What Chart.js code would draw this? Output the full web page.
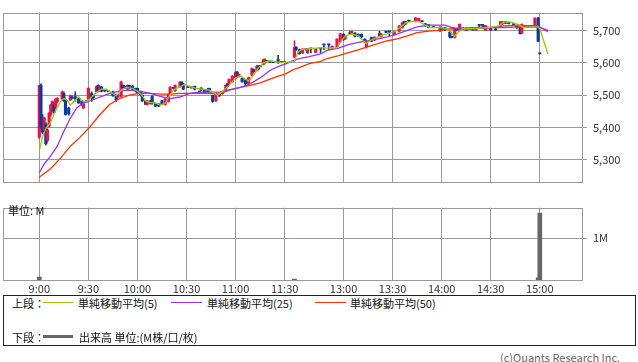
<!DOCTYPE html>
<html><head><meta charset="utf-8">
<script src="https://cdn.jsdelivr.net/npm/chart.js@4.4.1/dist/chart.umd.min.js"></script>
<style>
body{margin:0;background:#fff;font-family:"Noto Sans CJK JP","Noto Sans",sans-serif;}
#wrap{position:relative;width:638px;height:362px;overflow:hidden;background:#fff;}
canvas{position:absolute;left:0;}
.t{position:absolute;font-size:11px;line-height:12px;color:#111;white-space:nowrap;}
.ln{position:absolute;height:1px;}
</style></head><body>
<div id="wrap">
<canvas id="price" width="638" height="195" style="top:0"></canvas>
<canvas id="vol" width="638" height="100" style="top:195px"></canvas>
<div class="t" style="left:8px;top:204px">単位: M</div>
<div id="legend" style="position:absolute;left:3px;top:295px;width:633px;height:51px;border:1px solid #222;box-sizing:border-box;">
  <div class="t" style="left:8px;top:1px">上段：</div>
  <div class="ln" style="left:39px;top:6px;width:30px;background:#99cc00"></div>
  <div class="t" style="left:74px;top:1px">単純移動平均(5)</div>
  <div class="ln" style="left:167px;top:6px;width:31px;background:#9933ff"></div>
  <div class="t" style="left:203px;top:1px">単純移動平均(25)</div>
  <div class="ln" style="left:311px;top:6px;width:31px;background:#ff3300"></div>
  <div class="t" style="left:346px;top:1px">単純移動平均(50)</div>
  <div class="t" style="left:8px;top:35px">下段：</div>
  <div class="ln" style="left:39px;top:39px;width:30px;height:3px;background:#666"></div>
  <div class="t" style="left:75px;top:35px">出来高 単位:(M株/口/枚)</div>
</div>
<div class="t" style="left:500px;top:351px;color:#666">(c)Quants Research Inc.</div>
</div>
<script>
// ---------- data ----------
const timeTicks = ['9:00','9:30','10:00','10:30','11:00','11:30','13:00','13:30','14:00','14:30','15:00'];
const priceTicks = [5300, 5400, 5500, 5600, 5700];
const volTicks = [1];

const candleTimes = [
 '9:00','9:01','9:02','9:03','9:04','9:05','9:06','9:07','9:08','9:09',
 '9:10','9:11','9:14','9:15','9:16','9:18','9:19','9:20','9:22','9:24',
 '9:26','9:27','9:29','9:30','9:32','9:33','9:35','9:36','9:37','9:38',
 '9:40','9:42','9:45','9:47','9:48','9:50','9:51','9:52','9:54','9:55',
 '9:57','9:59','10:00','10:02','10:03','10:05','10:06','10:08','10:09','10:11',
 '10:13','10:15','10:17','10:19','10:20','10:22','10:23','10:26','10:27','10:28',
 '10:31','10:33','10:35','10:38','10:39','10:41','10:43','10:44','10:46','10:48',
 '10:50','10:52','10:54','10:55','10:56','10:58','11:00','11:01','11:02','11:04',
 '11:06','11:08','11:10','11:11','11:13','11:14','11:15','11:17','11:18','11:19',
 '11:21','11:23','11:26','11:28','11:30',
 '12:30','12:31','12:33','12:35','12:37','12:38','12:40','12:43','12:46','12:48',
 '12:51','12:53','12:56','12:58','13:00','13:01','13:04','13:05','13:07','13:09',
 '13:11','13:13','13:14','13:17','13:19','13:22','13:23','13:26','13:28','13:31',
 '13:34','13:36','13:37','13:38','13:40','13:44','13:46','13:48','13:50','13:52',
 '13:55','13:59','14:00','14:02','14:05','14:06','14:08','14:09','14:11','14:13',
 '14:15','14:17','14:19','14:21','14:23','14:25','14:26','14:27','14:30','14:33',
 '14:36','14:37','14:39','14:41','14:44','14:46','14:48','14:49','14:51','14:53',
 '14:55','14:57','14:59','15:00'
];
const opens = [
 5370,5530,5425,5392,5410,5360,5405,5440,5452,5470,
 5465,5480,5489,5505,5485,5460,5485,5492,5495,5490,
 5482,5460,5480,5488,5505,5498,5510,5530,5515,5525,
 5513,5512,5510,5500,5494,5496,5530,5528,5518,5530,
 5528,5521,5521,5510,5499,5482,5471,5482,5496,5474,
 5472,5482,5471,5480,5505,5522,5513,5526,5540,5535,
 5525,5524,5527,5510,5522,5516,5518,5521,5499,5482,
 5502,5504,5513,5535,5535,5541,5553,5571,5557,5552,
 5547,5535,5562,5578,5576,5590,5589,5595,5600,5605,
 5603,5602,5610,5602,5601,
 5617,5648,5640,5630,5641,5630,5643,5632,5644,5656,
 5656,5645,5650,5664,5688,5674,5694,5689,5692,5688,
 5688,5673,5650,5678,5670,5690,5681,5695,5696,5686,
 5697,5709,5727,5720,5729,5728,5728,5728,5720,5718,
 5710,5698,5708,5707,5695,5680,5678,5703,5700,5705,
 5700,5705,5706,5701,5716,5716,5714,5700,5707,5705,
 5716,5719,5727,5722,5718,5714,5714,5692,5712,5713,
 5712,5714,5738,5627
];
const highs = [
 5530,5535,5440,5432,5415,5395,5446,5472,5482,5474,
 5490,5492,5512,5510,5488,5463,5500,5498,5510,5492,
 5484,5474,5481,5523,5510,5500,5528,5532,5528,5527,
 5514,5513,5512,5502,5503,5543,5532,5530,5532,5531,
 5529,5522,5522,5512,5500,5484,5483,5484,5498,5476,
 5474,5484,5490,5504,5526,5523,5532,5542,5541,5536,
 5527,5525,5528,5512,5523,5517,5521,5522,5500,5507,
 5503,5507,5531,5537,5550,5560,5573,5573,5566,5553,
 5549,5556,5584,5580,5592,5591,5590,5611,5612,5606,
 5604,5603,5623,5603,5602,
 5668,5650,5642,5643,5642,5643,5644,5644,5645,5657,
 5657,5652,5674,5691,5690,5684,5697,5698,5693,5689,
 5689,5674,5668,5679,5680,5697,5690,5697,5697,5698,
 5715,5724,5729,5728,5730,5740,5738,5729,5722,5719,
 5711,5712,5709,5708,5696,5682,5704,5704,5720,5706,
 5708,5706,5707,5708,5717,5717,5715,5715,5708,5706,
 5728,5728,5728,5723,5719,5716,5715,5720,5714,5714,
 5714,5739,5740,5627
];
const lows = [
 5365,5395,5380,5390,5345,5355,5400,5435,5450,5444,
 5460,5476,5486,5480,5438,5438,5483,5488,5480,5474,
 5468,5458,5478,5486,5480,5490,5508,5510,5512,5510,
 5511,5510,5496,5480,5492,5494,5522,5520,5516,5520,
 5516,5510,5505,5497,5480,5470,5469,5472,5472,5465,
 5464,5470,5469,5478,5503,5520,5511,5524,5529,5517,
 5523,5521,5516,5508,5514,5504,5507,5512,5478,5480,
 5496,5503,5511,5525,5533,5539,5551,5555,5555,5540,
 5530,5533,5560,5570,5574,5579,5587,5593,5598,5603,
 5601,5600,5598,5600,5599,
 5615,5638,5626,5628,5639,5629,5630,5631,5630,5640,
 5640,5644,5648,5662,5669,5672,5689,5688,5680,5681,
 5676,5663,5645,5665,5668,5680,5680,5693,5684,5685,
 5695,5707,5715,5718,5727,5726,5726,5726,5712,5708,
 5708,5696,5700,5699,5677,5677,5676,5700,5698,5703,
 5699,5703,5700,5700,5709,5709,5704,5699,5700,5700,
 5715,5718,5721,5720,5716,5706,5688,5690,5710,5709,
 5710,5712,5665,5627
];
const closes = [
 5530,5400,5385,5430,5350,5392,5444,5470,5480,5446,
 5486,5490,5509,5482,5440,5442,5498,5490,5488,5476,
 5470,5472,5479,5521,5490,5492,5527,5512,5526,5512,
 5512,5511,5498,5486,5501,5541,5523,5521,5530,5522,
 5518,5512,5507,5500,5482,5471,5482,5474,5475,5466,
 5466,5471,5488,5502,5524,5521,5530,5540,5530,5518,
 5524,5522,5518,5509,5516,5505,5512,5513,5480,5505,
 5497,5506,5530,5527,5549,5558,5571,5557,5564,5541,
 5535,5554,5582,5572,5590,5580,5588,5610,5610,5604,
 5602,5601,5604,5601,5600,
 5647,5640,5628,5642,5640,5642,5642,5643,5643,5655,
 5655,5651,5673,5689,5671,5683,5690,5697,5682,5682,
 5680,5664,5664,5667,5679,5682,5689,5694,5695,5697,
 5714,5723,5717,5727,5728,5738,5737,5727,5714,5709,
 5709,5710,5701,5706,5679,5678,5703,5701,5719,5704,
 5707,5704,5701,5707,5715,5715,5705,5714,5701,5701,
 5727,5727,5722,5721,5717,5708,5690,5719,5713,5710,
 5713,5738,5667,5627
];

const ma5Times = ['9:00','9:02','9:04','9:07','9:10','9:13','9:15','9:17','9:19','9:22','9:24','9:26','9:29','9:32','9:35','9:38','9:41','9:44','9:47','9:50','9:53','9:57','10:00','10:03','10:05','10:08','10:11','10:14','10:17','10:19','10:22','10:26','10:29','10:32','10:36','10:40','10:44','10:47','10:49','10:52','10:56','11:00','11:03','11:06','11:08','11:11','11:14','11:17','11:20','11:23','11:27','11:30',
 '12:30','12:32','12:34','12:38','12:46','12:50','12:56','12:58','13:01','13:05','13:09','13:12','13:14','13:16','13:20','13:24','13:28','13:32','13:35','13:38','13:42','13:46','13:50','13:53','13:57','14:02','14:05','14:08','14:10','14:13','14:18','14:24','14:30','14:35','14:38','14:42','14:47','14:50','14:55','14:59','15:00','15:05'];
const ma5 = [5328,5370,5397,5416,5452,5480,5489,5484,5469,5484,5495,5482,5480,5494,5509,5518,5518,5507,5498,5515,5524,5521,5512,5498,5482,5477,5475,5469,5475,5494,5515,5526,5533,5526,5521,5518,5515,5507,5498,5512,5530,5553,5560,5549,5544,5562,5585,5599,5606,5604,5601,5601,
 5604,5631,5640,5643,5647,5645,5647,5663,5683,5689,5683,5668,5659,5668,5677,5686,5691,5698,5711,5723,5728,5728,5716,5709,5709,5707,5698,5682,5695,5705,5705,5707,5709,5714,5726,5726,5718,5709,5711,5711,5705,5627];

const ma25Times = ['9:00','9:03','9:06','9:11','9:15','9:19','9:23','9:27','9:32','9:37','9:43','9:49','9:55','10:01','10:08','10:14','10:20','10:26','10:32','10:38','10:44','10:50','10:56','11:03','11:09','11:15','11:21','11:27','11:30','12:30','12:33','12:39','12:46','12:50','12:57','13:03','13:09','13:15','13:21','13:27','13:33','13:39','13:45','13:52','13:58','14:02','14:06','14:12','14:18','14:24','14:30','14:38','14:47','14:53','14:59','15:05'];
const ma25 = [5260,5287,5305,5342,5388,5429,5461,5475,5484,5494,5505,5512,5515,5512,5505,5496,5489,5494,5505,5509,5509,5509,5516,5524,5535,5553,5576,5590,5595,5608,5613,5619,5627,5638,5645,5656,5663,5668,5674,5680,5689,5700,5711,5716,5716,5716,5709,5705,5705,5707,5709,5714,5716,5714,5714,5695];

const ma50Times = ['9:00','9:07','9:13','9:19','9:25','9:31','9:37','9:43','9:49','9:55','10:01','10:08','10:14','10:20','10:26','10:32','10:38','10:44','10:50','10:56','11:03','11:09','11:15','11:21','11:27','11:30','12:30','12:33','12:39','12:46','12:50','12:57','13:03','13:09','13:15','13:21','13:27','13:33','13:39','13:45','13:52','13:58','14:06','14:14','14:22','14:30','14:38','14:47','14:55','15:00','15:05'];
const ma50 = [5246,5273,5305,5342,5370,5402,5439,5471,5489,5500,5505,5505,5503,5503,5505,5505,5505,5505,5503,5515,5524,5530,5538,5549,5560,5564,5580,5585,5597,5604,5613,5622,5631,5640,5650,5659,5668,5674,5683,5693,5698,5700,5705,5707,5709,5709,5709,5711,5711,5709,5700];

const volTimes = ['9:00','12:30','14:59','15:00'];
const volumes = [0.07, 0.02, 0.05, 1.6];   // M shares

// ---------- helpers ----------
Chart.defaults.font.family = '"Noto Sans CJK JP","Noto Sans",sans-serif';
Chart.defaults.font.size = 11;
Chart.defaults.color = '#333';

const toPos = t => { const [h, m] = t.split(':').map(Number); const mins = h * 60 + m; return mins <= 690 ? mins - 540 : 156 + (mins - 750); };
const X_MIN = -22.2, X_MAX = 331.8;
const GRID = '#9a9a9a';
const RED = '#f0104a', BLUE = '#0a3a9c';

const frame = { id: 'frame', beforeDatasetsDraw(chart) {
  const { ctx, chartArea: a } = chart;
  ctx.save(); ctx.strokeStyle = GRID; ctx.lineWidth = 1;
  ctx.strokeRect(Math.round(a.left) + 0.5, Math.round(a.top) + 0.5, Math.round(a.right) - Math.round(a.left), Math.round(a.bottom) - Math.round(a.top));
  ctx.restore(); } };

function xScale(showLabels) {
  return { type: 'linear', min: X_MIN, max: X_MAX, offset: false,
    afterBuildTicks: s => { s.ticks = timeTicks.map(t => ({ value: toPos(t) })); },
    grid: { color: GRID, lineWidth: 1, drawTicks: false, offset: false },
    border: { display: false },
    ticks: { display: showLabels, padding: 2, maxRotation: 0, minRotation: 0, autoSkip: false, color: '#333', callback: (v, i) => timeTicks[i] },
    afterFit: s => { s.height = showLabels ? 15 : 0; } };
}

const colors = opens.map((o, i) => closes[i] > o ? RED : BLUE);
const bodies = candleTimes.map((t, i) => ({ x: toPos(t), y: [opens[i], closes[i]] }));
const wicks = candleTimes.map((t, i) => ({ x: toPos(t), y: [lows[i], highs[i]] }));
const line = (times, vals, color) => ({ type: 'line', data: times.map((t, i) => ({ x: toPos(t), y: vals[i] })), borderColor: color, borderWidth: 1.3, pointRadius: 0, tension: 0, fill: false });

new Chart(document.getElementById('price'), {
  type: 'bar',
  data: { datasets: [
    line(ma5Times, ma5, '#99cc00'),
    line(ma25Times, ma25, '#9933ff'),
    line(ma50Times, ma50, '#ff3300'),
    { type: 'bar', data: bodies, backgroundColor: colors, barThickness: 2.5, minBarLength: 1.2, grouped: false },
    { type: 'bar', data: wicks, backgroundColor: colors, barThickness: 1, minBarLength: 1, grouped: false }
  ] },
  options: { responsive: false, animation: false, events: [],
    layout: { padding: { left: 3, right: 0, top: 0, bottom: 5 } },
    plugins: { legend: { display: false }, tooltip: { enabled: false } },
    scales: {
      x: xScale(false),
      y: { position: 'right', min: 5230, max: 5755,
        afterBuildTicks: s => { s.ticks = priceTicks.map(v => ({ value: v })); },
        afterFit: s => { s.width = 56; },
        grid: { color: GRID, lineWidth: 1, drawTicks: true, tickLength: 5 },
        border: { display: false },
        ticks: { padding: 6, color: '#333', callback: v => v.toLocaleString('en-US') } }
    } },
  plugins: [frame]
});

new Chart(document.getElementById('vol'), {
  type: 'bar',
  data: { datasets: [
    { data: volTimes.map((t, i) => ({ x: toPos(t), y: volumes[i] })), backgroundColor: '#666', barThickness: 4, grouped: false }
  ] },
  options: { responsive: false, animation: false, events: [],
    layout: { padding: { left: 3, right: 0, top: 6, bottom: 0 } },
    plugins: { legend: { display: false }, tooltip: { enabled: false } },
    scales: {
      x: xScale(true),
      y: { position: 'right', min: 0, max: 1.73,
        afterBuildTicks: s => { s.ticks = volTicks.map(v => ({ value: v })); },
        afterFit: s => { s.width = 56; },
        grid: { color: GRID, lineWidth: 1, drawTicks: true, tickLength: 5 },
        border: { display: false },
        ticks: { padding: 6, color: '#333', callback: v => v + 'M' } }
    } },
  plugins: [frame]
});
</script>
</body></html>
